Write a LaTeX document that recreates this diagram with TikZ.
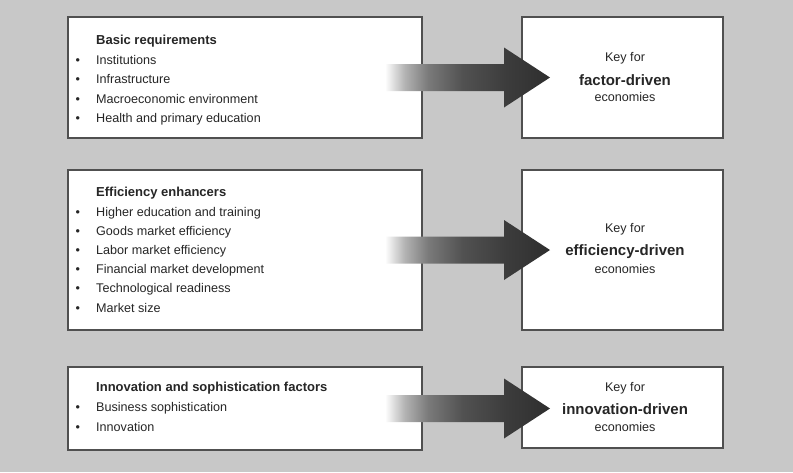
\documentclass[tikz,border=0pt]{standalone}
\usepackage{fontspec}
\setmainfont{Liberation Sans}
\usetikzlibrary{calc}
\definecolor{bg}{RGB}{200,200,200}
\definecolor{frame}{RGB}{80,80,80}
\definecolor{ink}{RGB}{38,38,38}
\pgfdeclarehorizontalshading{arrowfade}{100bp}{color(0bp)=(white); color(25bp)=(white); color(31bp)=(black!30); color(38bp)=(black!52); color(48.5bp)=(black!68); color(61bp)=(black!76); color(75bp)=(black!82); color(100bp)=(black!82)}
\newcommand\itembullet{\makebox[20.5pt][l]{\textbullet}}
\begin{document}
\begin{tikzpicture}[x=1pt,y=-1pt,
 box/.style={draw=frame, line width=1.1pt, fill=white, inner sep=0pt, outer sep=0pt, anchor=north west},
 head/.style={anchor=base west, inner sep=0pt, font=\fontsize{13}{15}\selectfont\bfseries, text=ink},
 item/.style={anchor=base west, inner sep=0pt, font=\fontsize{12.6}{15}\selectfont, text=ink},
 key/.style={anchor=base, inner sep=0pt, font=\fontsize{12.6}{15}\selectfont, text=ink},
 keybig/.style={anchor=base, inner sep=0pt, font=\fontsize{15}{18}\selectfont\bfseries, text=ink},
 fatarrow/.style={shading=arrowfade}]
\path[fill=bg] (0,0) rectangle (793,472);
% boxes
\node[box, minimum width=354pt, minimum height=121pt] (L1) at (68,17) {};
\node[box, minimum width=354pt, minimum height=160pt] (L2) at (68,170) {};
\node[box, minimum width=354pt, minimum height=83pt] (L3) at (68,367) {};
\node[box, minimum width=201pt, minimum height=121pt] (R1) at (522,17) {};
\node[box, minimum width=201pt, minimum height=160pt] (R2) at (522,170) {};
\node[box, minimum width=201pt, minimum height=81pt] (R3) at (522,367) {};
% arrows
\foreach \k in {1,2,3}{
  \coordinate (s\k) at ($(L\k.east)+(-37,0)$);
  \coordinate (b\k) at ($(L\k.east -| R\k.west)+(-18,0)$);
  \coordinate (t\k) at ($(L\k.east -| R\k.west)+(28,0)$);
  \shade[fatarrow] ($(s\k)+(0,-13.5)$) -- ($(b\k)+(0,-13.5)$) -- ($(b\k)+(0,-30)$) -- (t\k)
     -- ($(b\k)+(0,30)$) -- ($(b\k)+(0,13.5)$) -- ($(s\k)+(0,13.5)$) -- cycle;
}
% left texts
\node[head] (h1) at (96,44) {Basic requirements};
\foreach \t [count=\i] in {Institutions, Infrastructure, Macroeconomic environment, Health and primary education}
  \node[item] (a\i) at (75.5,44.5+19.5*\i) {\itembullet\t};
\node[head] (h2) at (96,196.2) {Efficiency enhancers};
\foreach \t [count=\i] in {Higher education and training, Goods market efficiency, Labor market efficiency, Financial market development, Technological readiness, Market size}
  \node[item] (e\i) at (75.5,196.8+19.2*\i) {\itembullet\t};
\node[head] (h3) at (96,391) {Innovation and sophistication factors};
\foreach \t [count=\i] in {Business sophistication, Innovation}
  \node[item] (n\i) at (75.5,391.7+20*\i) {\itembullet\t};
% right texts
\node[key] (k1a) at (625,61) {Key for};
\node[keybig] (k1b) at (625,85) {factor-driven};
\node[key] (k1c) at (625,101.6) {economies};
\node[key] (k2a) at (625,232.3) {Key for};
\node[keybig] (k2b) at (625,255.7) {efficiency-driven};
\node[key] (k2c) at (625,273.3) {economies};
\node[key] (k3a) at (625,391) {Key for};
\node[keybig] (k3b) at (625,414.3) {innovation-driven};
\node[key] (k3c) at (625,431.6) {economies};
\end{tikzpicture}
\end{document}
